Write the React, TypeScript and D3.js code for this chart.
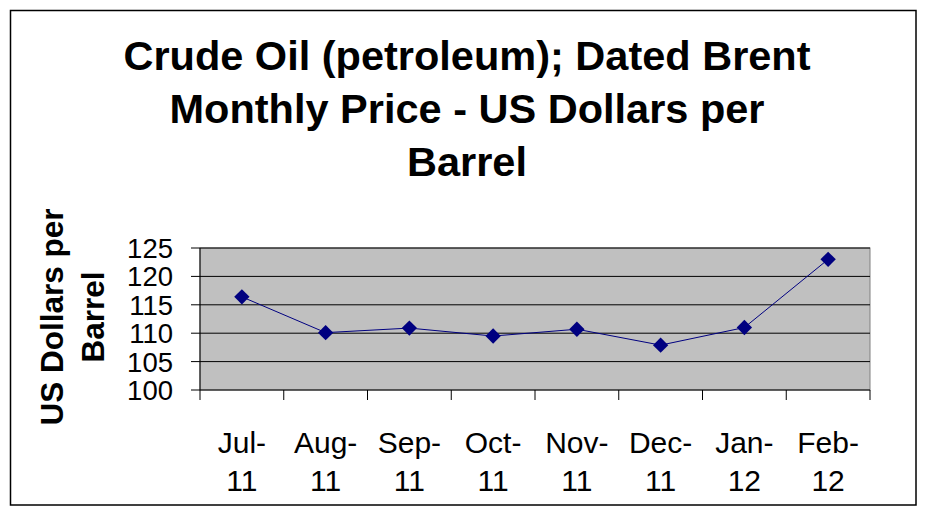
import React from "react";
import * as d3 from "d3";

const categories = ["Jul-11", "Aug-11", "Sep-11", "Oct-11", "Nov-11", "Dec-11", "Jan-12", "Feb-12"];
const prices = [116.4, 110.1, 110.9, 109.5, 110.7, 107.9, 111.0, 123.0];
const yTicks = [100, 105, 110, 115, 120, 125];
const titleLines = ["Crude Oil (petroleum); Dated Brent", "Monthly Price - US Dollars per", "Barrel"];
const yTitleLines = ["US Dollars per", "Barrel"];

const W = 927;
const H = 515;
const plot = { left: 200, right: 870, top: 248, bottom: 390 };
const font = "'Liberation Sans', Arial, sans-serif";

export default function App() {
  const x = d3.scaleBand<string>().domain(categories).range([plot.left, plot.right]);
  const y = d3.scaleLinear().domain([100, 125]).range([plot.bottom, plot.top]);
  const cx = (c: string) => (x(c) as number) + x.bandwidth() / 2;
  const line = d3
    .line<number>()
    .x((_, i) => cx(categories[i]))
    .y((d) => y(d));
  const diamond = d3.symbol().type(d3.symbolDiamond2).size(150)();
  const tickXs = categories.map((c) => x(c) as number).concat([plot.right]);

  return (
    <svg
      width={W}
      height={H}
      style={{ position: "absolute", left: 0, top: 0, display: "block" }}
      fontFamily={font}
    >
      <rect x={0} y={0} width={W} height={H} fill="#fff" />
      <rect x={10.5} y={10.5} width={905.5} height={494.5} fill="#fff" stroke="#000" strokeWidth={1.5} />
      {titleLines.map((t, i) => (
        <text
          key={t}
          x={467}
          y={70 + i * 53}
          textAnchor="middle"
          fontSize={41.5}
          fontWeight="bold"
          fill="#000"
        >
          {t}
        </text>
      ))}
      {yTitleLines.map((t, i) => (
        <text
          key={t}
          transform={`translate(${63 + i * 41},${317}) rotate(-90)`}
          textAnchor="middle"
          fontSize={31.5}
          fontWeight="bold"
          fill="#000"
        >
          {t}
        </text>
      ))}
      <rect
        x={plot.left}
        y={plot.top}
        width={plot.right - plot.left}
        height={plot.bottom - plot.top}
        fill="#C0C0C0"
        stroke="#808080"
        strokeWidth={1}
      />
      {yTicks.map((t) => (
        <g key={t}>
          {t > 100 && (
            <line x1={plot.left} x2={plot.right} y1={y(t)} y2={y(t)} stroke="#000" strokeWidth={1} />
          )}
          <line x1={plot.left - 9} x2={plot.left} y1={y(t)} y2={y(t)} stroke="#000" strokeWidth={1} />
          <text
            x={173}
            y={y(t) + 10}
            textAnchor="end"
            fontSize={27.5}
            fill="#000"
          >
            {t}
          </text>
        </g>
      ))}
      <line x1={plot.left} x2={plot.left} y1={plot.top} y2={plot.bottom} stroke="#000" strokeWidth={1} />
      <line x1={plot.left} x2={plot.right} y1={plot.bottom} y2={plot.bottom} stroke="#000" strokeWidth={1} />
      {tickXs.map((tx, i) => (
        <line key={i} x1={tx} x2={tx} y1={plot.bottom} y2={plot.bottom + 10} stroke="#000" strokeWidth={1} />
      ))}
      {categories.map((c) => {
        const [a, b] = c.split("-");
        return (
          <text key={c} x={cx(c)} textAnchor="middle" fontSize={30} fill="#000">
            <tspan x={cx(c)} y={453}>{a + "-"}</tspan>
            <tspan x={cx(c)} y={491}>{b}</tspan>
          </text>
        );
      })}
      <path d={line(prices) as string} fill="none" stroke="#000080" strokeWidth={1} />
      {prices.map((p, i) => (
        <path
          key={i}
          d={diamond as string}
          transform={`translate(${cx(categories[i])},${y(p)})`}
          fill="#000080"
        />
      ))}
    </svg>
  );
}
